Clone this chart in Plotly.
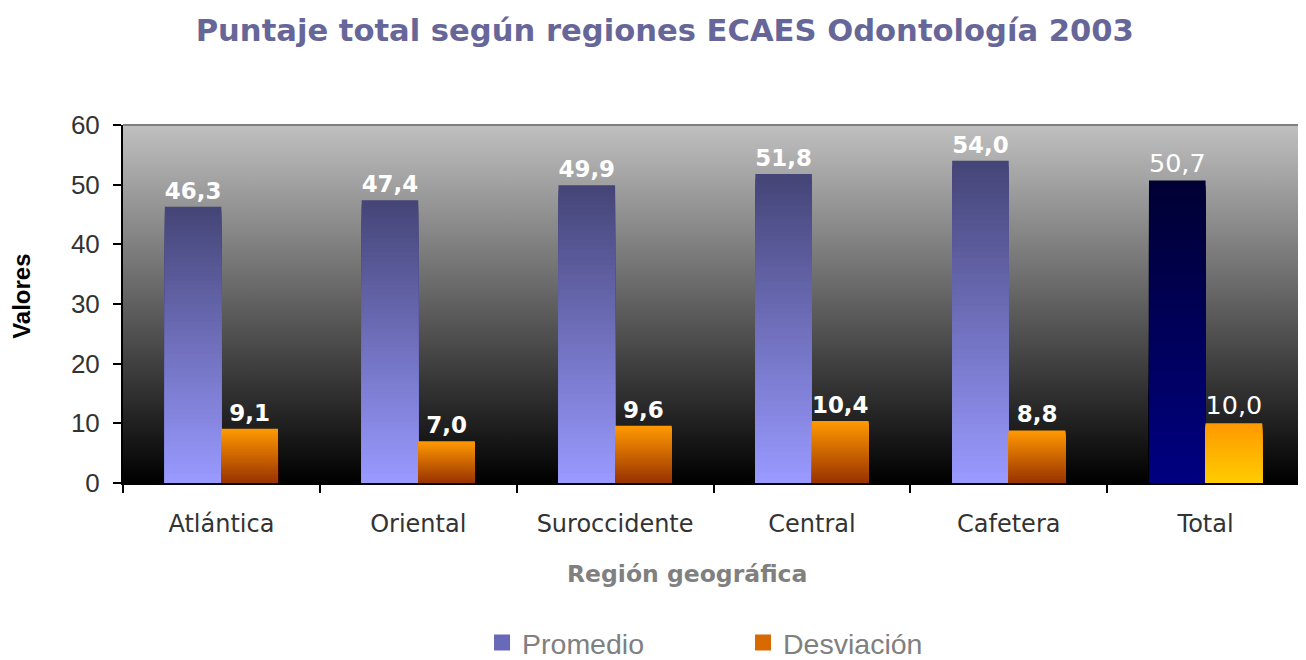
import base64
import plotly.graph_objects as go

categories = ["Atlántica", "Oriental", "Suroccidente", "Central", "Cafetera", "Total"]
promedio = [46.3, 47.4, 49.9, 51.8, 54.0, 50.7]
desviacion = [9.1, 7.0, 9.6, 10.4, 8.8, 10.0]

N = 60

def lerp(c1, c2, t):
    return tuple(round(a + (b - a) * t) for a, b in zip(c1, c2))

def rgb(c):
    return "rgb(%d,%d,%d)" % c

# gradient colour stops (top, bottom) per bar
prom_top, prom_bot = (69, 69, 120), (153, 153, 255)
prom_tot_top, prom_tot_bot = (0, 0, 51), (0, 0, 128)
desv_top, desv_bot = (255, 153, 0), (153, 51, 0)
desv_tot_top, desv_tot_bot = (255, 153, 0), (255, 204, 0)

fig = go.Figure()

def add_series(vals, name, group, top, bot, ttop, tbot, legcolor):
    weights = ["normal" if c == "Total" else "bold" for c in categories]
    sizes = [25.5 if c == "Total" else 23 for c in categories]
    for i in range(N):
        frac = (N - i) / N  # height fraction of this layer
        t = i / (N - 1)
        cols = []
        for k in range(len(vals)):
            if categories[k] == "Total":
                cols.append(rgb(lerp(ttop, tbot, t)))
            else:
                cols.append(rgb(lerp(top, bot, t)))
        kw = {}
        if i == 0:
            kw = dict(texttemplate="%{customdata:.1f}", textposition="outside",
                      customdata=vals,
                      outsidetextfont=dict(family="DejaVu Sans", size=sizes, color="white", weight=weights),
                      cliponaxis=False)
        fig.add_trace(go.Bar(
            x=categories, y=[v * frac for v in vals],
            name=name, offsetgroup=group, legendgroup=group,
            showlegend=False,
            marker=dict(color=cols, line=dict(width=0)),
            hoverinfo="skip", **kw))
    # legend entry
    fig.add_trace(go.Scatter(
        x=[None], y=[None], mode="markers", name=name, legendgroup=group,
        marker=dict(symbol="square", size=19, color=legcolor, line=dict(width=0)),
        showlegend=True))

add_series(promedio, "Promedio", "p", prom_top, prom_bot, prom_tot_top, prom_tot_bot, "rgb(105,105,185)")
add_series(desviacion, "Desviación", "d", desv_top, desv_bot, desv_tot_top, desv_tot_bot, "rgb(215,105,0)")

svg = ('<svg xmlns="http://www.w3.org/2000/svg" width="100" height="100" preserveAspectRatio="none">'
       '<defs><linearGradient id="g" x1="0" y1="0" x2="0" y2="1">'
       '<stop offset="0" stop-color="#c0c0c0"/><stop offset="1" stop-color="#000000"/>'
       '</linearGradient></defs><rect width="100" height="100" fill="url(#g)"/></svg>')
src = "data:image/svg+xml;base64," + base64.b64encode(svg.encode()).decode()

fig.update_layout(
    width=1298, height=652,
    margin=dict(l=115, r=2, t=117, b=177),
    paper_bgcolor="white", plot_bgcolor="rgba(0,0,0,0)",
    separators=",.",
    barmode="group", bargap=0.425, bargroupgap=0,
    title=dict(text="<b>Puntaje total según regiones ECAES Odontología 2003</b>",
               x=0.506, xanchor="center", y=0.966, yanchor="middle",
               font=dict(family="DejaVu Sans", size=30.6, color="#666699")),
    images=[dict(source=src, xref="paper", yref="paper", x=0, y=1, sizex=1, sizey=1,
                 sizing="stretch", layer="below")],
    legend=dict(orientation="h", x=0.525, xanchor="center",
                yref="container", y=0.026, yanchor="middle",
                font=dict(family="Liberation Sans", size=28.5, color="#808080"),
                entrywidth=216, itemwidth=30, traceorder="normal"),
    showlegend=True,
    shapes=[
        dict(type="line", xref="paper", yref="paper", x0=0, x1=1, y0=1, y1=1,
             line=dict(color="#808080", width=2)),
        dict(type="line", xref="paper", yref="paper", x0=1, x1=1, y0=0, y1=1,
             line=dict(color="#808080", width=2)),
    ],
    annotations=[
        dict(text="<b>Región geográfica</b>", xref="paper", yref="paper",
             x=0.4776, y=-0.254, xanchor="center", yanchor="middle", showarrow=False,
             font=dict(family="DejaVu Sans", size=23.5, color="#808080")),
        dict(text="<b>Valores</b>", xref="paper", yref="paper", textangle=-90,
             x=-0.0855, y=0.52, xanchor="center", yanchor="middle", showarrow=False,
             font=dict(family="Liberation Sans", size=24, color="black")),
    ],
)

fig.update_xaxes(
    automargin=False,
    showline=True, linecolor="black", linewidth=2,
    ticks="outside", tickson="boundaries", ticklen=8, tickwidth=2, tickcolor="black",
    ticklabelstandoff=18,
    tickfont=dict(family="DejaVu Sans", size=24, color="#333333"),
    showgrid=False,
)
fig.update_yaxes(
    automargin=False,
    range=[0, 60], dtick=10, showgrid=False, zeroline=False,
    showline=True, linecolor="black", linewidth=2,
    ticks="outside", ticklen=8, tickwidth=2, tickcolor="black",
    ticklabelstandoff=8,
    tickfont=dict(family="Liberation Sans", size=26, color="#333333"),
)

fig.write_html("out.html")
